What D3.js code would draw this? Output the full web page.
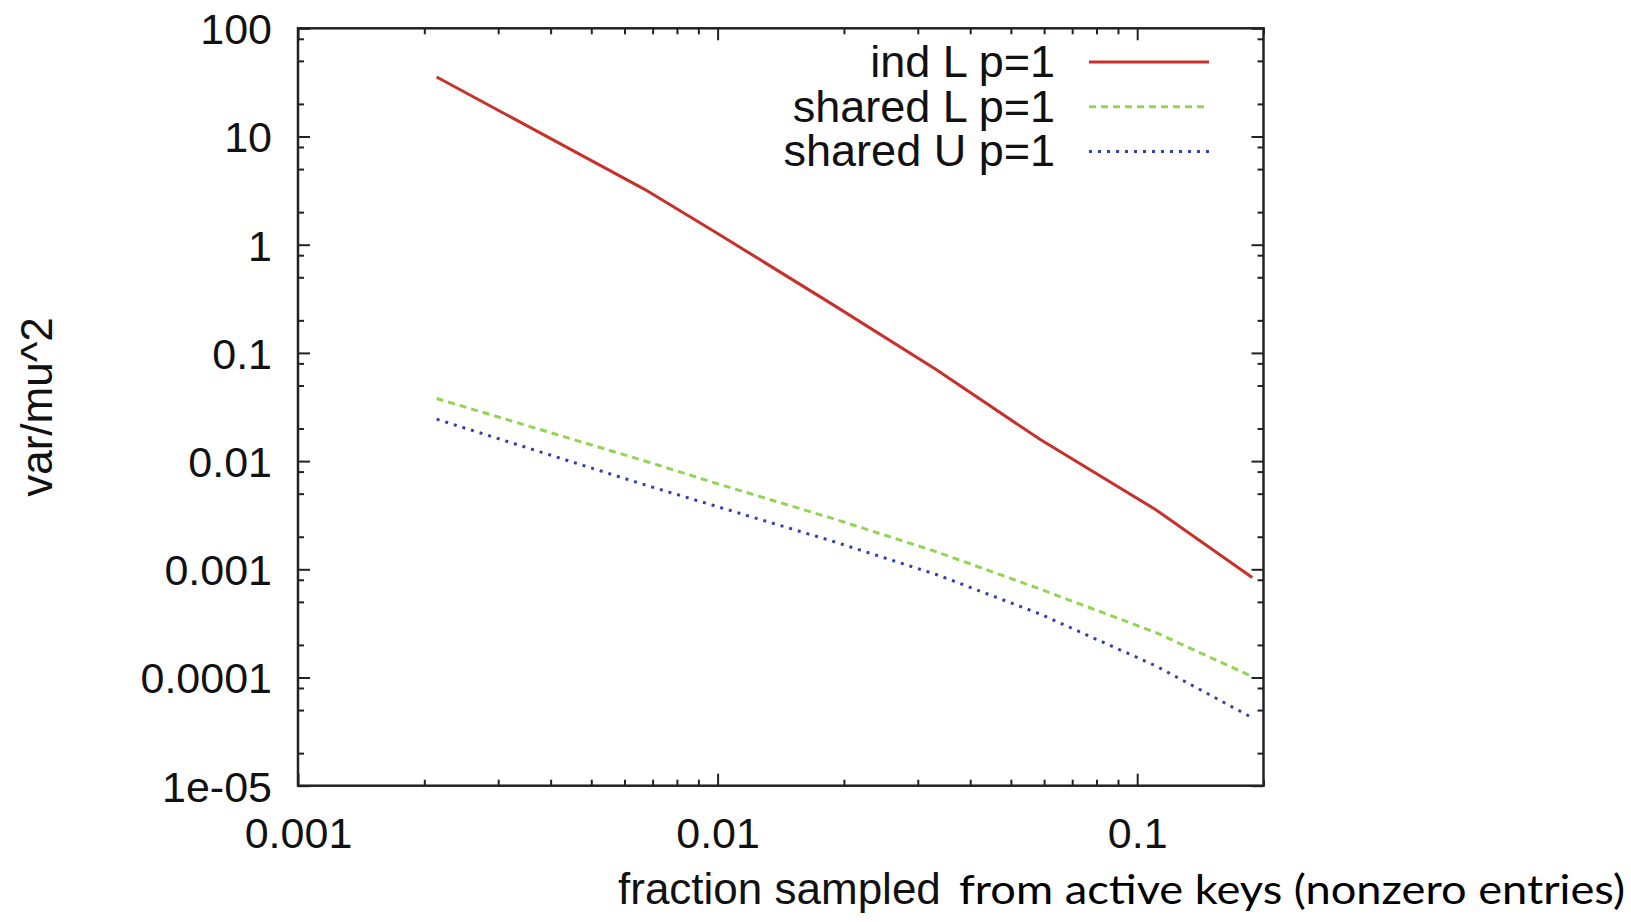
<!DOCTYPE html>
<html>
<head>
<meta charset="utf-8">
<script src="https://cdn.jsdelivr.net/npm/d3@7"></script>
<style>
  html, body { margin: 0; padding: 0; background: #fff; }
  svg { display: block; }
</style>
</head>
<body>
<svg id="chart" width="1631" height="922"></svg>
<script>
// ---- data ----
const fractions = [0.00214, 0.0067, 0.01, 0.0187, 0.0331, 0.0585, 0.1108, 0.188];
const indL     = [35.5, 3.25, 1.27, 0.284, 0.0705, 0.016, 0.00355, 0.00084];
const sharedL  = [0.0379, 0.01005, 0.00617, 0.00297, 0.00146, 0.00066, 0.00026, 0.000102];
const sharedU  = [0.0244, 0.00604, 0.00379, 0.00183, 0.0009, 0.000388, 0.000128, 0.0000425];
const seriesNames = ["ind L p=1", "shared L p=1", "shared U p=1"];
const xTickValues = [0.001, 0.01, 0.1];
const xTickLabels = ["0.001", "0.01", "0.1"];
const yTickValues = [100, 10, 1, 0.1, 0.01, 0.001, 0.0001, 0.00001];
const yTickLabels = ["100", "10", "1", "0.1", "0.01", "0.001", "0.0001", "1e-05"];
const xMinorMultipliers = [2, 3, 4, 5, 6, 7, 8, 9];
const yMinorMultipliers = [2, 5, 8];
const xTitle = "fraction sampled";
const xNote = "from active keys (nonzero entries)";
const yTitle = "var/mu^2";

// ---- layout ----
const L = 298, R = 1263.5, T = 28.3, B = 785.7;
const svg = d3.select("#chart");

const x = d3.scaleLog().domain([0.001, 0.2]).range([L, R]);
const y = d3.scaleLog().domain([0.00001, 100]).range([B, T]);

const xMinor = [];
[0.001, 0.01, 0.1].forEach(d => xMinorMultipliers.forEach(m => { const v = d * m; if (v <= 0.2 + 1e-12) xMinor.push(v); }));
const yMinor = [];
[0.00001, 0.0001, 0.001, 0.01, 0.1, 1, 10].forEach(d => yMinorMultipliers.forEach(m => yMinor.push(d * m)));

const tickColor = "#222";
const labelFont = "'Liberation Sans', Arial, Helvetica, sans-serif";
function styleAxis(g) {
  g.select(".domain").remove();
  g.selectAll(".tick line").attr("stroke", tickColor).attr("stroke-width", 2);
}

// bottom
svg.append("g").attr("transform", `translate(0,${B})`)
  .call(d3.axisBottom(x).tickValues(xMinor).tickSize(-6).tickFormat(""))
  .call(styleAxis);
svg.append("g").attr("transform", `translate(0,${B})`)
  .call(d3.axisBottom(x).tickValues(xTickValues).tickSize(-12).tickPadding(0)
    .tickFormat((d, i) => xTickLabels[i]))
  .call(styleAxis)
  .call(g => g.selectAll("text")
    .attr("y", 62).attr("dy", 0)
    .attr("font-family", labelFont)
    .attr("font-size", 43).attr("fill", "#111"));
// top
svg.append("g").attr("transform", `translate(0,${T})`)
  .call(d3.axisTop(x).tickValues(xMinor).tickSize(-6).tickFormat(""))
  .call(styleAxis);
svg.append("g").attr("transform", `translate(0,${T})`)
  .call(d3.axisTop(x).tickValues(xTickValues).tickSize(-12).tickFormat(""))
  .call(styleAxis);
// left
svg.append("g").attr("transform", `translate(${L},0)`)
  .call(d3.axisLeft(y).tickValues(yMinor).tickSize(-6).tickFormat(""))
  .call(styleAxis);
svg.append("g").attr("transform", `translate(${L},0)`)
  .call(d3.axisLeft(y).tickValues(yTickValues).tickSize(-12).tickPadding(0)
    .tickFormat((d, i) => yTickLabels[i]))
  .call(styleAxis)
  .call(g => g.selectAll("text")
    .attr("x", -26).attr("dy", "0.36em")
    .attr("font-family", labelFont)
    .attr("font-size", 43).attr("fill", "#111"));
// right
svg.append("g").attr("transform", `translate(${R},0)`)
  .call(d3.axisRight(y).tickValues(yMinor).tickSize(-6).tickFormat(""))
  .call(styleAxis);
svg.append("g").attr("transform", `translate(${R},0)`)
  .call(d3.axisRight(y).tickValues(yTickValues).tickSize(-12).tickFormat(""))
  .call(styleAxis);

// frame
svg.append("rect").attr("x", L).attr("y", T).attr("width", R - L).attr("height", B - T)
  .attr("fill", "none").attr("stroke", "#222").attr("stroke-width", 2.5);

// series
const series = [
  { name: seriesNames[0], values: indL,    color: "#c8302c", dash: null,  width: 3 },
  { name: seriesNames[1], values: sharedL, color: "#94d455", dash: "7,5", width: 3 },
  { name: seriesNames[2], values: sharedU, color: "#3442a6", dash: "3,6", width: 3 }
];
const line = d3.line().x(d => x(d[0])).y(d => y(d[1]));
series.forEach(s => {
  svg.append("path")
    .datum(fractions.map((f, i) => [f, s.values[i]]))
    .attr("d", line)
    .attr("fill", "none")
    .attr("stroke", s.color)
    .attr("stroke-width", s.width)
    .attr("stroke-dasharray", s.dash);
});

// legend
const legX = 1055, legY0 = 62, legStep = 44.7;
series.forEach((s, i) => {
  const yy = legY0 + i * legStep;
  svg.append("text").attr("x", legX).attr("y", yy + 15)
    .attr("text-anchor", "end")
    .attr("font-family", labelFont)
    .attr("font-size", 45).attr("fill", "#111")
    .text(s.name);
  svg.append("line").attr("x1", 1089).attr("x2", 1209).attr("y1", yy).attr("y2", yy)
    .attr("stroke", s.color).attr("stroke-width", s.width)
    .attr("stroke-dasharray", s.dash);
});

// axis titles
svg.append("text").attr("x", 618).attr("y", 904)
  .attr("font-family", labelFont)
  .attr("font-size", 44).attr("fill", "#111")
  .text(xTitle);
svg.append("text").attr("x", 959).attr("y", 904)
  .attr("font-family", "Lato, 'Open Sans', sans-serif")
  .attr("font-size", 40).attr("fill", "#000")
  .attr("textLength", 666).attr("lengthAdjust", "spacingAndGlyphs")
  .text(xNote);
svg.append("text")
  .attr("transform", `translate(52,${(T + B) / 2}) rotate(-90)`)
  .attr("text-anchor", "middle")
  .attr("font-family", labelFont)
  .attr("font-size", 44).attr("fill", "#111")
  .text(yTitle);
</script>
</body>
</html>
